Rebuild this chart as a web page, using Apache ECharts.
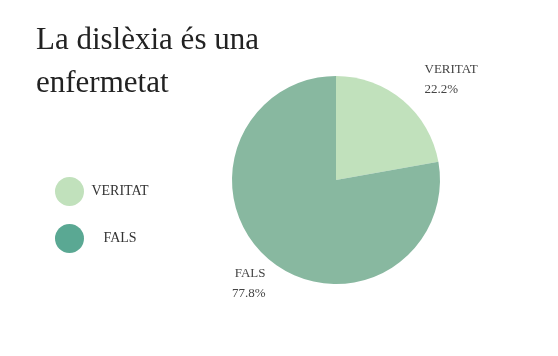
<!DOCTYPE html>
<html><head><meta charset="utf-8">
<script src="https://cdn.jsdelivr.net/npm/echarts@6/dist/echarts.min.js"></script>
<style>html,body{margin:0;padding:0;background:#fff}#c{width:558px;height:356px}</style>
</head><body><div id="c"></div>
<script>
const titleText = "La dislèxia és una\nenfermetat";
const categories = ["VERITAT", "FALS"];
const values = [22.2, 77.8];
const pieColors = ["#c1e1bc", "#88b8a0"];
const legendColors = ["#c1e1bc", "#5aa893"];

const chart = echarts.init(document.getElementById('c'), null, {renderer: 'canvas'});
chart.setOption({
  backgroundColor: '#fff',
  animation: false,
  title: {
    text: titleText, left: 31, top: 14,
    textStyle: {fontFamily: 'Liberation Serif', fontWeight: 'normal', fontSize: 31, lineHeight: 43, color: '#222'}
  },
  legend: {
    orient: 'vertical', left: 50, top: 172, itemWidth: 29, itemHeight: 29, itemGap: 18, icon: 'circle',
    data: categories.map((c, i) => ({name: c, itemStyle: {color: legendColors[i]}})),
    formatter: '{a|{name}}',
    textStyle: {rich: {a: {width: 62, align: 'center', fontFamily: 'Liberation Serif', fontSize: 14, color: '#333'}}}
  },
  series: [{
    type: 'pie', center: [336, 180], radius: 104, startAngle: 90, clockwise: true,
    data: categories.map((c, i) => ({name: c, value: values[i], itemStyle: {color: pieColors[i]}})),
    label: {
      show: true, position: 'outside', formatter: '{b}\n{d}%',
      fontFamily: 'Liberation Serif', fontSize: 13, lineHeight: 20, color: '#444'
    },
    labelLine: {show: false, length: 26, length2: 0},
    labelLayout: function (p) {
      if (p.dataIndex === 1) return {dx: 18, dy: 4};
      return {dy: -1};
    },
    emphasis: {disabled: true}
  }]
});
</script></body></html>
